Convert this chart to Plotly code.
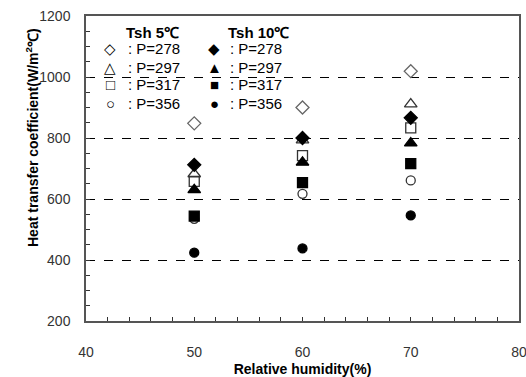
import plotly.graph_objects as go

humidity = [50, 60, 70]

series_names = ["Tsh 5℃ P=278", "Tsh 5℃ P=297", "Tsh 5℃ P=317", "Tsh 5℃ P=356",
                "Tsh 10℃ P=278", "Tsh 10℃ P=297", "Tsh 10℃ P=317", "Tsh 10℃ P=356"]
open_diamond = [848, 900, 1019]
open_triangle = [682, 793, 911]
open_square = [658, 742, 833]
open_circle = [535, 617, 661]
fill_diamond = [712, 800, 866]
fill_triangle = [630, 720, 783]
fill_square = [544, 654, 716]
fill_circle = [424, 438, 546]

values = [open_diamond, open_triangle, open_square, open_circle,
          fill_diamond, fill_triangle, fill_square, fill_circle]
symbols = ["diamond-open", "triangle-up-open", "square-open", "circle-open",
           "diamond", "triangle-up", "square", "circle"]
colors = ["#666666", "#333333", "#333333", "#333333",
          "black", "black", "black", "black"]
sizes = [10, 11, 10, 9, 10, 11, 10, 9]

legend_glyphs_5 = ["◇", "△", "□", "○"]
legend_glyphs_10 = ["◆", "▲", "■", "●"]
pressures = ["278", "297", "317", "356"]

fig = go.Figure()
for name, v, s, c, sz in zip(series_names, values, symbols, colors, sizes):
    fig.add_trace(go.Scatter(
        x=humidity, y=v, mode="markers", name=name,
        marker=dict(symbol=s, size=sz, color=c,
                    line=dict(width=1.3, color=c)),
        showlegend=False))

font_fam = "Liberation Sans, Arial, sans-serif"

fig.update_layout(
    width=526, height=377,
    margin=dict(l=86, r=7, t=16, b=56),
    paper_bgcolor="white", plot_bgcolor="white",
    font=dict(family=font_fam, color="black"),
    xaxis=dict(range=[40, 80], dtick=10, tick0=40, automargin=False,
               ticklabeloverflow="allow",
               showline=True, mirror=True, linecolor="#555555", linewidth=1.5,
               ticks="inside", ticklen=4, tickcolor="#333333",
               minor=dict(dtick=2, ticks="inside", ticklen=4, tickcolor="#333333"),
               showgrid=False, zeroline=False,
               tickfont=dict(size=14, color="#333333"),
               ticklabelstandoff=17,
               title=dict(text="<b>Relative humidity(%)</b>", font=dict(size=14), standoff=12)),
    yaxis=dict(range=[200, 1200], dtick=200, tick0=200, automargin=False,
               ticklabeloverflow="allow",
               showline=True, mirror=True, linecolor="#555555", linewidth=1.5,
               ticks="inside", ticklen=4, tickcolor="#333333",
               minor=dict(dtick=50, ticks="inside", ticklen=4, tickcolor="#333333"),
               showgrid=True, gridcolor="black", griddash="dash", gridwidth=1,
               zeroline=False,
               tickfont=dict(size=14, color="#333333"),
               ticklabelstandoff=11),
)

ann = []
ann.append(dict(x=32, y=138, text="<b>Heat transfer coefficient(W/m<sup>2</sup>℃)</b>",
                textangle=-90, showarrow=False, font=dict(size=14), xanchor="center"))
fs = 15
ann.append(dict(x=124, y=32, text="<b>Tsh 5℃</b>", showarrow=False, xanchor="left", font=dict(size=fs)))
ann.append(dict(x=226, y=32, text="<b>Tsh 10℃</b>", showarrow=False, xanchor="left", font=dict(size=fs)))
rows_y = [49, 67, 85, 103]
for i, yy in enumerate(rows_y):
    ann.append(dict(x=110, y=yy, text=legend_glyphs_5[i], showarrow=False, font=dict(size=15), xanchor="center"))
    ann.append(dict(x=126, y=yy, text=": P=" + pressures[i], showarrow=False, xanchor="left", font=dict(size=fs)))
    ann.append(dict(x=214, y=yy, text=legend_glyphs_10[i], showarrow=False, font=dict(size=15), xanchor="center"))
    ann.append(dict(x=228, y=yy, text=": P=" + pressures[i], showarrow=False, xanchor="left", font=dict(size=fs)))

W, H = 526, 377
L, R, T, B = 86, 7, 16, 56
pw, ph = W - L - R, H - T - B
for a in ann:
    a["xref"] = "paper"; a["yref"] = "paper"
    a["x"] = (a["x"] - L) / pw
    a["y"] = (H - B - a["y"]) / ph
    a.setdefault("yanchor", "middle")
fig.update_layout(annotations=ann)

fig.write_html("out.html")
